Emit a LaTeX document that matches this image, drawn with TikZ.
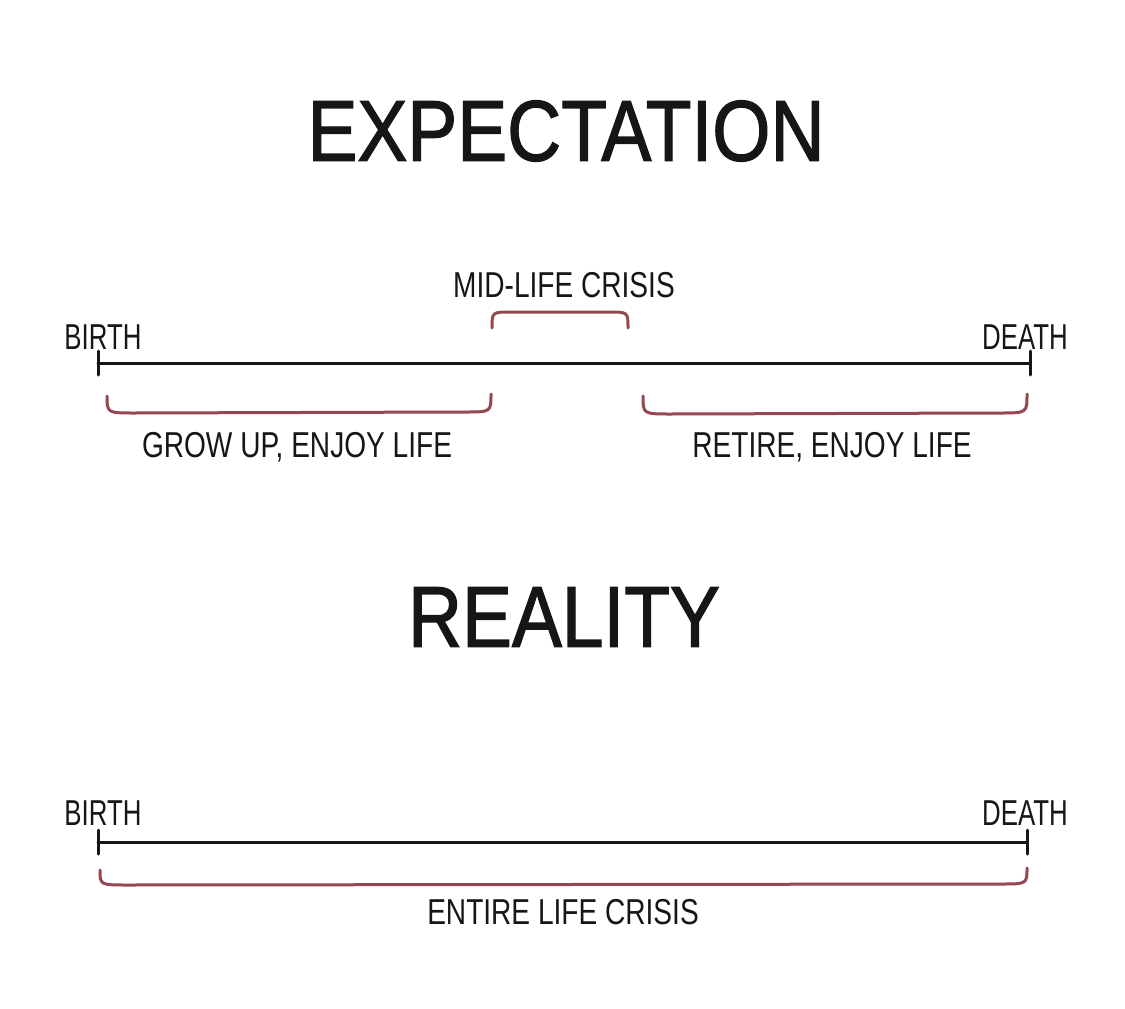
\documentclass[tikz,border=0pt]{standalone}
\usepackage{fontspec}
\setmainfont{Liberation Sans}
\newfontfamily\headfont{Liberation Sans}[BoldFont={Liberation Sans}, BoldFeatures={FakeBold=1.6}]
\definecolor{crisisred}{RGB}{150,72,82}
\definecolor{ink}{RGB}{22,22,22}

\def \tickhalf {12}

\begin{document}
\begin{tikzpicture}[x=1pt, y=-1pt,
  heading/.style={font=\headfont\fontsize{86}{90}\selectfont\bfseries, text=ink, xscale=0.87, inner sep=0pt},
  label/.style={font=\fontsize{36}{40}\selectfont, text=ink, xscale=0.78, inner sep=0pt},
  end label/.style={label, xscale=0.92},
  life/.style={draw=ink, line width=3pt, line cap=round},
  brace/.style={draw=crisisred, line width=3pt, line cap=round}]
\useasboundingbox[fill=white] (0,0) rectangle (1125,1009);

% expectation
\node[heading] (expect) at (566,131) {EXPECTATION};
\node[label] (midlife) at (564,285) {MID-LIFE CRISIS};
\node[end label] (birthA) at (103,337) {BIRTH};
\node[end label] (deathA) at (1025,337) {DEATH};
\coordinate (startA) at (98,363);
\coordinate (endA) at (1030,363);
\draw[life] (startA) -- (endA);
\draw[life] ([yshift=-\tickhalf]startA) -- ([yshift=\tickhalf]startA);
\draw[life] ([yshift=-\tickhalf]endA) -- ([yshift=\tickhalf]endA);
% mid-life brace, above the line
\coordinate (midL) at (492,328);
\coordinate (midR) at (628,328);
\draw[brace] (midL) .. controls (492,312) .. (512,312) -- (608,312) .. controls (628,312) .. (midR);
% lower braces
\coordinate (growL) at (107,396);
\coordinate (growR) at (491,394);
\draw[brace] (growL) .. controls (107,413) .. (135,413) -- (465,412) .. controls (491,412) .. (growR);
\node[label] (grow) at (297,447) {GROW UP, ENJOY LIFE};
\coordinate (retireL) at (643,396);
\coordinate (retireR) at (1027,394);
\draw[brace] (retireL) .. controls (643,414) .. (671,414) -- (1000,413) .. controls (1027,413) .. (retireR);
\node[label] (retire) at (832,447) {RETIRE, ENJOY LIFE};

% reality
\node[heading] (real) at (564,617) {REALITY};
\node[end label] (birthB) at (103,813) {BIRTH};
\node[end label] (deathB) at (1025,813) {DEATH};
\coordinate (startB) at (98,842);
\coordinate (endB) at (1027,842);
\draw[life] (startB) -- (endB);
\draw[life] ([yshift=-\tickhalf]startB) -- ([yshift=\tickhalf]startB);
\draw[life] ([yshift=-\tickhalf]endB) -- ([yshift=\tickhalf]endB);
\coordinate (entireL) at (100,870);
\coordinate (entireR) at (1027,868);
\draw[brace] (entireL) .. controls (100,885) .. (128,885) -- (1000,884) .. controls (1027,884) .. (entireR);
\node[label] (entire) at (563,912) {ENTIRE LIFE CRISIS};
\end{tikzpicture}
\end{document}
